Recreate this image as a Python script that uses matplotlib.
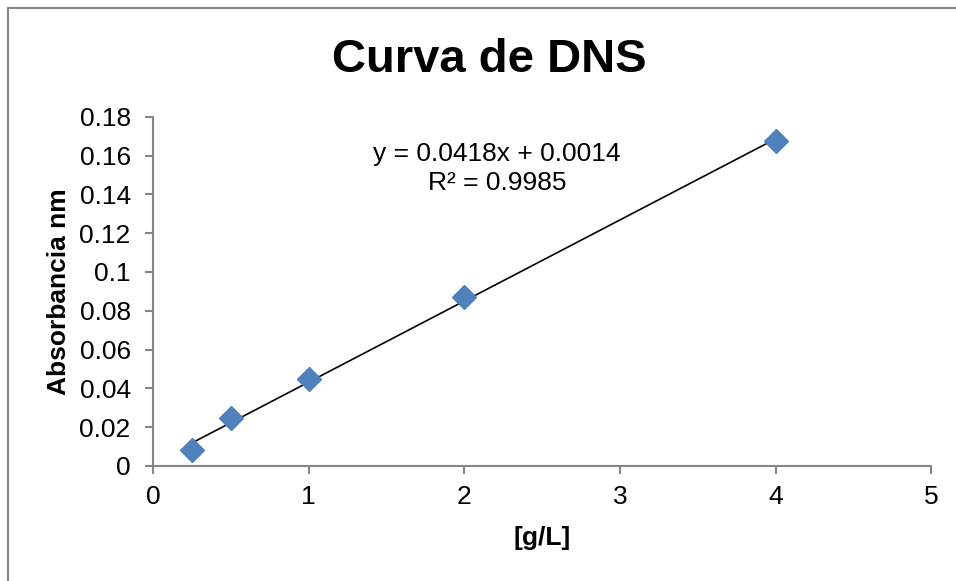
import matplotlib.pyplot as plt
from matplotlib.lines import Line2D
from matplotlib.ticker import FuncFormatter

plt.rcParams['font.family'] = ['Liberation Sans', 'DejaVu Sans']

# standards: concentration [g/L] vs absorbance
conc = [0.25, 0.5, 1, 2, 4]
absorb = [0.0083, 0.0248, 0.0449, 0.0872, 0.1676]

# linear trendline
slope = 0.0418
intercept = 0.0014
r2 = 0.9985

fig = plt.figure(figsize=(9.56, 5.81), dpi=100)
ax = fig.add_axes([0.160, 0.198, 0.814, 0.601])

grey = '#868686'

tx = [min(conc), max(conc)]
ty = [slope * v + intercept for v in tx]
ax.plot(tx, ty, color='black', lw=1.2, zorder=2)
ax.plot(conc, absorb, linestyle='none', marker='D', markersize=12,
        color='#4F81BD', zorder=3, clip_on=False)

ax.set_xlim(0, 5)
ax.set_ylim(0, 0.18)
ax.set_xticks(range(0, 6))
ax.set_yticks([i * 0.02 for i in range(10)])
ax.yaxis.set_major_formatter(FuncFormatter(lambda v, p: '%g' % round(v, 2)))

for s in ('top', 'right'):
    ax.spines[s].set_visible(False)
for s in ('left', 'bottom'):
    ax.spines[s].set_color(grey)
    ax.spines[s].set_linewidth(1.5)
ax.tick_params(axis='both', colors=grey, labelcolor='black', labelsize=19,
               length=6, width=1.5, direction='out')
ax.tick_params(axis='x', pad=8)
ax.tick_params(axis='y', pad=10)

fig.text(0.5115, 1 - 60 / 581, 'Curva de DNS', fontsize=34, fontweight='bold',
         ha='center', va='center')
ax.set_xlabel('[g/L]', fontsize=19, fontweight='bold', labelpad=12)
ax.set_ylabel('Absorbancia nm', fontsize=19, fontweight='bold', labelpad=6)

ax.text(0.442, 0.852, 'y = %.4fx + %.4f\nR² = %.4f' % (slope, intercept, r2),
        transform=ax.transAxes, ha='center', va='center', fontsize=19,
        linespacing=1.25)

# chart area frame (left and top edges)
fig.add_artist(Line2D([7.5 / 956, 7.5 / 956], [0, 1 - 8 / 581],
                      transform=fig.transFigure, color='#888888', lw=1.5))
fig.add_artist(Line2D([7.5 / 956, 1], [1 - 8 / 581, 1 - 8 / 581],
                      transform=fig.transFigure, color='#888888', lw=1.5))

fig.savefig('out.png', dpi=100)
